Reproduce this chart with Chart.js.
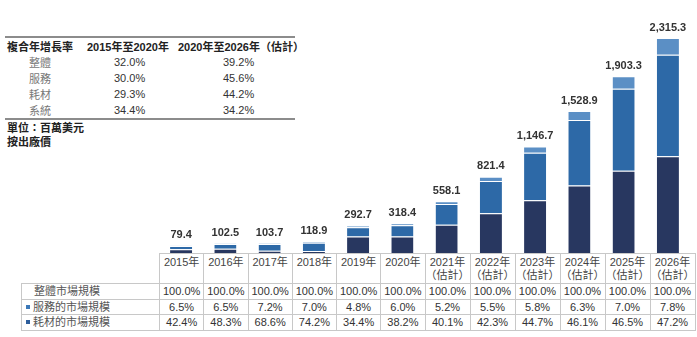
<!DOCTYPE html>
<html>
<head>
<meta charset="utf-8">
<script src="https://cdn.jsdelivr.net/npm/chart.js@4.4.0/dist/chart.umd.min.js"></script>
<style>
    body {
        margin: 0;
        width: 697px;
        height: 337px;
        background: #fff;
        position: relative;
        overflow: hidden;
        font-family: "Liberation Sans", Arial, "Noto Sans CJK TC", sans-serif;
        color: #333;
    }
    .cagr {
        position: absolute;
        left: 5px;
        top: 36px;
        width: 290px;
        border-collapse: collapse;
        table-layout: fixed;
        border-top: 2px solid #8c8c8c;
        border-bottom: 2px solid #8c8c8c;
        font-size: 11px;
    }
    .cagr th {
        font-weight: bold;
        color: #222;
        height: 16px;
        padding: 0;
        text-align: left;
        white-space: nowrap;
    }
    .cagr td {
        height: 15.7px;
        padding: 0;
        text-align: left;
        color: #333;
    }
    .cagr td.lbl { color: #777; padding-left: 24px; }
    .cagr td.v1 { padding-left: 27px; }
    .cagr td.v2 { padding-left: 45px; }
    .unit {
        position: absolute;
        left: 7px;
        top: 121px;
        font-size: 11px;
        font-weight: bold;
        line-height: 14px;
        color: #222;
    }
    #chart-box {
        position: absolute;
        left: 159px;
        top: 0;
        width: 531px;
        height: 253px;
    }
    .data-table {
        position: absolute;
        left: 21px;
        top: 253px;
        border-collapse: collapse;
        table-layout: fixed;
        font-size: 11px;
    }
    .data-table td {
        border: 1px solid #c8c8c8;
        padding: 0;
        text-align: center;
        height: 14.5px;
        line-height: 14px;
        color: #333;
        white-space: nowrap;
    }
    .data-table tr.head td {
        height: 27px;
        vertical-align: top;
        line-height: 13px;
        padding-top: 2px;
        color: #444;
    }
    .data-table tr.head td.blank {
        border-top: none;
        border-left: none;
    }
    .data-table td.name {
        text-align: left;
        padding-left: 4px;
        color: #555;
    }
    .sq {
        display: inline-block;
        width: 4px;
        height: 4px;
        margin-right: 3px;
        vertical-align: 2px;
    }
</style>
</head>
<body>

<table class="cagr">
    <colgroup><col style="width:82px"><col style="width:91px"><col></colgroup>
    <tr><th style="padding-left:2px">複合年增長率</th><th>2015年至2020年</th><th>2020年至2026年（估計）</th></tr>
    <tbody id="cagr-body"></tbody>
</table>
<div class="unit">單位：百萬美元<br>按出廠價</div>

<div id="chart-box"><canvas id="chart"></canvas></div>

<table class="data-table" id="data-table"></table>

<script>
// CAGR table
const cagrRows = ['整體', '服務', '耗材', '系統'];
const cagr2015to2020 = ['32.0%', '30.0%', '29.3%', '34.4%'];
const cagr2020to2026 = ['39.2%', '45.6%', '44.2%', '34.2%'];

// Market size, millions USD
const years = ['2015年', '2016年', '2017年', '2018年', '2019年', '2020年',
    '2021年', '2022年', '2023年', '2024年', '2025年', '2026年'];
const estimated = [false, false, false, false, false, false, true, true, true, true, true, true];
const totals = [79.4, 102.5, 103.7, 118.9, 292.7, 318.4, 558.1, 821.4, 1146.7, 1528.9, 1903.3, 2315.3];
const servicesPct = [6.5, 6.5, 7.2, 7.0, 4.8, 6.0, 5.2, 5.5, 5.8, 6.3, 7.0, 7.8];
const consumablesPct = [42.4, 48.3, 68.6, 74.2, 34.4, 38.2, 40.1, 42.3, 44.7, 46.1, 46.5, 47.2];

const COLORS = {
    systems: '#283760',
    consumables: '#2d69a7',
    services: '#5b8fc5'
};

// segments from the printed shares; systems is the remainder
const services = totals.map((t, i) => t * servicesPct[i] / 100);
const consumables = totals.map((t, i) => t * consumablesPct[i] / 100);
const systems = totals.map((t, i) => t - services[i] - consumables[i]);

document.getElementById('cagr-body').innerHTML = cagrRows.map((r, i) => `
    <tr><td class="lbl">${r}</td><td class="v1">${cagr2015to2020[i]}</td><td class="v2">${cagr2020to2026[i]}</td></tr>
`).join('');

const colW = 531 / years.length;
const fmtPct = v => v.toFixed(1) + '%';
document.getElementById('data-table').innerHTML = `
    <colgroup><col style="width:138px">${years.map(() => `<col style="width:${colW}px">`).join('')}</colgroup>
    <tr class="head"><td class="blank"></td>${years.map((y, i) => `<td>${y}${estimated[i] ? '<br>（估計）' : ''}</td>`).join('')}</tr>
    <tr><td class="name" style="padding-left:12px">整體市場規模</td>${years.map(() => '<td>100.0%</td>').join('')}</tr>
    <tr><td class="name"><span class="sq" style="background:#3b78b8"></span>服務的市場規模</td>${servicesPct.map(v => `<td>${fmtPct(v)}</td>`).join('')}</tr>
    <tr><td class="name"><span class="sq" style="background:#2d5e9c"></span>耗材的市場規模</td>${consumablesPct.map(v => `<td>${fmtPct(v)}</td>`).join('')}</tr>
`;

// total above each bar
const totalLabels = {
    id: 'totalLabels',
    afterDatasetsDraw(chart) {
        const ctx = chart.ctx;
        const meta = chart.getDatasetMeta(chart.data.datasets.length - 1);
        ctx.save();
        ctx.font = 'bold 11px "Liberation Sans", Arial, sans-serif';
        ctx.fillStyle = '#333';
        ctx.textAlign = 'center';
        ctx.textBaseline = 'bottom';
        meta.data.forEach((bar, i) => {
            const txt = totals[i].toLocaleString('en-US', { minimumFractionDigits: 1 });
            ctx.fillText(txt, bar.x, bar.y - 5);
        });
        ctx.restore();
    }
};

const segStyle = {
    borderColor: 'rgba(255, 255, 255, 0.75)',
    borderWidth: { top: 1, bottom: 0, left: 0, right: 0 },
    borderSkipped: false,
    barPercentage: 0.5,
    categoryPercentage: 1
};

new Chart(document.getElementById('chart'), {
    type: 'bar',
    data: {
        labels: years,
        datasets: [
            { label: '系統', data: systems, backgroundColor: COLORS.systems, ...segStyle },
            { label: '耗材', data: consumables, backgroundColor: COLORS.consumables, ...segStyle },
            { label: '服務', data: services, backgroundColor: COLORS.services, ...segStyle }
        ]
    },
    options: {
        responsive: true,
        maintainAspectRatio: false,
        animation: false,
        layout: { padding: 0 },
        plugins: {
            legend: { display: false },
            tooltip: { enabled: false }
        },
        scales: {
            x: { stacked: true, display: false },
            y: { stacked: true, display: false, min: 0, max: 2725 }
        }
    },
    plugins: [totalLabels]
});
</script>
</body>
</html>
